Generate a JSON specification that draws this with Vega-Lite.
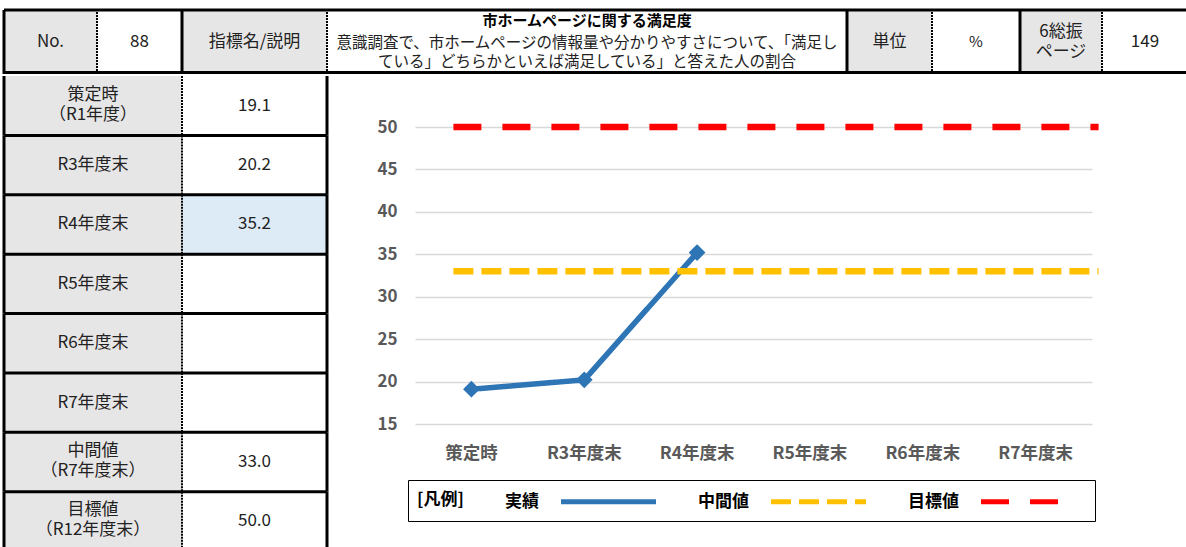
{
  "$schema": "https://vega.github.io/schema/vega-lite/v6.json",
  "padding": {"left": 2, "top": 8, "right": 0, "bottom": 0},
  "background": "white",
  "spacing": -8,
  "config": {"font": "Noto Sans CJK JP", "view": {"stroke": null}},
  "datasets": {
    "rows": [
      {"key": "策定時", "label": "策定時\n（R1年度）", "series": "実績", "value": 19.1},
      {"key": "R3年度末", "label": "R3年度末", "series": "実績", "value": 20.2},
      {"key": "R4年度末", "label": "R4年度末", "series": "実績", "value": 35.2},
      {"key": "R5年度末", "label": "R5年度末", "series": "実績", "value": null},
      {"key": "R6年度末", "label": "R6年度末", "series": "実績", "value": null},
      {"key": "R7年度末", "label": "R7年度末", "series": "実績", "value": null},
      {"key": "中間値", "label": "中間値\n（R7年度末）", "series": "中間値", "value": 33.0},
      {"key": "目標値", "label": "目標値\n（R12年度末）", "series": "目標値", "value": 50.0}
    ]
  },
  "vconcat": [
    {
      "spacing": 0,
      "bounds": "flush",
      "hconcat": [
        {
          "width": 93, "height": 64,
          "view": {"fill": "#e7e6e6", "stroke": null},
          "data": {"values": [{"t": "No."}]},
          "layer": [
            {"mark": {"type": "text", "fontSize": 17, "color": "#222222"}, "encoding": {"text": {"field": "t", "type": "nominal"}, "x": {"datum": 0.5, "type": "quantitative", "scale": {"domain": [0, 1]}, "axis": null}, "y": {"datum": 0.5, "type": "quantitative", "scale": {"domain": [0, 1]}, "axis": null}}},
            {"mark": {"type": "rule", "color": "#000000", "strokeWidth": 3}, "encoding": {"x": {"datum": 0, "type": "quantitative"}, "y": {"datum": 0, "type": "quantitative"}, "y2": {"datum": 1}}},
            {"mark": {"type": "rule", "color": "#000000", "strokeWidth": 3}, "encoding": {"y": {"datum": 1, "type": "quantitative"}, "x": {"datum": 0, "type": "quantitative"}, "x2": {"datum": 1}}},
            {"mark": {"type": "rule", "color": "#000000", "strokeWidth": 3, "yOffset": -1.5}, "encoding": {"y": {"datum": 0, "type": "quantitative"}, "x": {"datum": 0, "type": "quantitative"}, "x2": {"datum": 1}}}
          ]
        },
        {
          "width": 85, "height": 64,
          "view": {"stroke": null},
          "data": {"values": [{"t": "88"}]},
          "layer": [
            {"mark": {"type": "text", "fontSize": 17, "color": "#222222"}, "encoding": {"text": {"field": "t", "type": "nominal"}, "x": {"datum": 0.5, "type": "quantitative", "scale": {"domain": [0, 1]}, "axis": null}, "y": {"datum": 0.5, "type": "quantitative", "scale": {"domain": [0, 1]}, "axis": null}}},
            {"mark": {"type": "rule", "color": "#000000", "strokeWidth": 2, "strokeDash": [2, 1]}, "encoding": {"x": {"datum": 0, "type": "quantitative"}, "y": {"datum": 0, "type": "quantitative"}, "y2": {"datum": 1}}},
            {"mark": {"type": "rule", "color": "#000000", "strokeWidth": 3}, "encoding": {"y": {"datum": 1, "type": "quantitative"}, "x": {"datum": 0, "type": "quantitative"}, "x2": {"datum": 1}}},
            {"mark": {"type": "rule", "color": "#000000", "strokeWidth": 3, "yOffset": -1.5}, "encoding": {"y": {"datum": 0, "type": "quantitative"}, "x": {"datum": 0, "type": "quantitative"}, "x2": {"datum": 1}}}
          ]
        },
        {
          "width": 145, "height": 64,
          "view": {"fill": "#e7e6e6", "stroke": null},
          "data": {"values": [{"t": "指標名/説明"}]},
          "layer": [
            {"mark": {"type": "text", "fontSize": 17, "color": "#222222"}, "encoding": {"text": {"field": "t", "type": "nominal"}, "x": {"datum": 0.5, "type": "quantitative", "scale": {"domain": [0, 1]}, "axis": null}, "y": {"datum": 0.5, "type": "quantitative", "scale": {"domain": [0, 1]}, "axis": null}}},
            {"mark": {"type": "rule", "color": "#000000", "strokeWidth": 3}, "encoding": {"x": {"datum": 0, "type": "quantitative"}, "y": {"datum": 0, "type": "quantitative"}, "y2": {"datum": 1}}},
            {"mark": {"type": "rule", "color": "#000000", "strokeWidth": 3}, "encoding": {"y": {"datum": 1, "type": "quantitative"}, "x": {"datum": 0, "type": "quantitative"}, "x2": {"datum": 1}}},
            {"mark": {"type": "rule", "color": "#000000", "strokeWidth": 3, "yOffset": -1.5}, "encoding": {"y": {"datum": 0, "type": "quantitative"}, "x": {"datum": 0, "type": "quantitative"}, "x2": {"datum": 1}}}
          ]
        },
        {
          "width": 520, "height": 64,
          "view": {"stroke": null},
          "data": {"values": [{"title": "市ホームページに関する満足度", "desc": "意識調査で、市ホームページの情報量や分かりやすさについて、「満足し\nている」どちらかといえば満足している」と答えた人の割合"}]},
          "layer": [
            {"mark": {"type": "text", "fontSize": 15, "fontWeight": "bold", "color": "#000000", "dy": -21}, "encoding": {"text": {"field": "title", "type": "nominal"}, "x": {"datum": 0.5, "type": "quantitative", "scale": {"domain": [0, 1]}, "axis": null}, "y": {"datum": 0.5, "type": "quantitative", "scale": {"domain": [0, 1]}, "axis": null}}},
            {"mark": {"type": "text", "fontSize": 15.5, "color": "#222222", "dy": 1, "lineBreak": "\n", "lineHeight": 19}, "encoding": {"text": {"field": "desc", "type": "nominal"}, "x": {"datum": 0.5, "type": "quantitative"}, "y": {"datum": 0.5, "type": "quantitative"}}},
            {"mark": {"type": "rule", "color": "#000000", "strokeWidth": 2, "strokeDash": [2, 1]}, "encoding": {"x": {"datum": 0, "type": "quantitative"}, "y": {"datum": 0, "type": "quantitative"}, "y2": {"datum": 1}}},
            {"mark": {"type": "rule", "color": "#000000", "strokeWidth": 3}, "encoding": {"y": {"datum": 1, "type": "quantitative"}, "x": {"datum": 0, "type": "quantitative"}, "x2": {"datum": 1}}},
            {"mark": {"type": "rule", "color": "#000000", "strokeWidth": 3, "yOffset": -1.5}, "encoding": {"y": {"datum": 0, "type": "quantitative"}, "x": {"datum": 0, "type": "quantitative"}, "x2": {"datum": 1}}}
          ]
        },
        {
          "width": 85, "height": 64,
          "view": {"fill": "#e7e6e6", "stroke": null},
          "data": {"values": [{"t": "単位"}]},
          "layer": [
            {"mark": {"type": "text", "fontSize": 17, "color": "#222222"}, "encoding": {"text": {"field": "t", "type": "nominal"}, "x": {"datum": 0.5, "type": "quantitative", "scale": {"domain": [0, 1]}, "axis": null}, "y": {"datum": 0.5, "type": "quantitative", "scale": {"domain": [0, 1]}, "axis": null}}},
            {"mark": {"type": "rule", "color": "#000000", "strokeWidth": 3}, "encoding": {"x": {"datum": 0, "type": "quantitative"}, "y": {"datum": 0, "type": "quantitative"}, "y2": {"datum": 1}}},
            {"mark": {"type": "rule", "color": "#000000", "strokeWidth": 3}, "encoding": {"y": {"datum": 1, "type": "quantitative"}, "x": {"datum": 0, "type": "quantitative"}, "x2": {"datum": 1}}},
            {"mark": {"type": "rule", "color": "#000000", "strokeWidth": 3, "yOffset": -1.5}, "encoding": {"y": {"datum": 0, "type": "quantitative"}, "x": {"datum": 0, "type": "quantitative"}, "x2": {"datum": 1}}}
          ]
        },
        {
          "width": 88, "height": 64,
          "view": {"stroke": null},
          "data": {"values": [{"t": "%"}]},
          "layer": [
            {"mark": {"type": "text", "fontSize": 15, "color": "#222222"}, "encoding": {"text": {"field": "t", "type": "nominal"}, "x": {"datum": 0.5, "type": "quantitative", "scale": {"domain": [0, 1]}, "axis": null}, "y": {"datum": 0.5, "type": "quantitative", "scale": {"domain": [0, 1]}, "axis": null}}},
            {"mark": {"type": "rule", "color": "#000000", "strokeWidth": 2, "strokeDash": [2, 1]}, "encoding": {"x": {"datum": 0, "type": "quantitative"}, "y": {"datum": 0, "type": "quantitative"}, "y2": {"datum": 1}}},
            {"mark": {"type": "rule", "color": "#000000", "strokeWidth": 3}, "encoding": {"y": {"datum": 1, "type": "quantitative"}, "x": {"datum": 0, "type": "quantitative"}, "x2": {"datum": 1}}},
            {"mark": {"type": "rule", "color": "#000000", "strokeWidth": 3, "yOffset": -1.5}, "encoding": {"y": {"datum": 0, "type": "quantitative"}, "x": {"datum": 0, "type": "quantitative"}, "x2": {"datum": 1}}}
          ]
        },
        {
          "width": 82, "height": 64,
          "view": {"fill": "#e7e6e6", "stroke": null},
          "data": {"values": [{"t": "6総振\nページ"}]},
          "layer": [
            {"mark": {"type": "text", "fontSize": 17, "color": "#222222", "lineBreak": "\n", "lineHeight": 20, "dy": -10}, "encoding": {"text": {"field": "t", "type": "nominal"}, "x": {"datum": 0.5, "type": "quantitative", "scale": {"domain": [0, 1]}, "axis": null}, "y": {"datum": 0.5, "type": "quantitative", "scale": {"domain": [0, 1]}, "axis": null}}},
            {"mark": {"type": "rule", "color": "#000000", "strokeWidth": 3}, "encoding": {"x": {"datum": 0, "type": "quantitative"}, "y": {"datum": 0, "type": "quantitative"}, "y2": {"datum": 1}}},
            {"mark": {"type": "rule", "color": "#000000", "strokeWidth": 3}, "encoding": {"y": {"datum": 1, "type": "quantitative"}, "x": {"datum": 0, "type": "quantitative"}, "x2": {"datum": 1}}},
            {"mark": {"type": "rule", "color": "#000000", "strokeWidth": 3, "yOffset": -1.5}, "encoding": {"y": {"datum": 0, "type": "quantitative"}, "x": {"datum": 0, "type": "quantitative"}, "x2": {"datum": 1}}}
          ]
        },
        {
          "width": 86, "height": 64,
          "view": {"stroke": null},
          "data": {"values": [{"t": "149"}]},
          "layer": [
            {"mark": {"type": "text", "fontSize": 17, "color": "#222222"}, "encoding": {"text": {"field": "t", "type": "nominal"}, "x": {"datum": 0.5, "type": "quantitative", "scale": {"domain": [0, 1]}, "axis": null}, "y": {"datum": 0.5, "type": "quantitative", "scale": {"domain": [0, 1]}, "axis": null}}},
            {"mark": {"type": "rule", "color": "#000000", "strokeWidth": 2, "strokeDash": [2, 1]}, "encoding": {"x": {"datum": 0, "type": "quantitative"}, "y": {"datum": 0, "type": "quantitative"}, "y2": {"datum": 1}}},
            {"mark": {"type": "rule", "color": "#000000", "strokeWidth": 3}, "encoding": {"y": {"datum": 1, "type": "quantitative"}, "x": {"datum": 0, "type": "quantitative"}, "x2": {"datum": 1}}},
            {"mark": {"type": "rule", "color": "#000000", "strokeWidth": 3, "yOffset": -1.5}, "encoding": {"y": {"datum": 0, "type": "quantitative"}, "x": {"datum": 0, "type": "quantitative"}, "x2": {"datum": 1}}}
          ]
        }
      ]
    },
    {
      "spacing": 0,
      "bounds": "flush",
      "hconcat": [
        {
          "width": 178, "height": 475,
          "view": {"fill": "#e7e6e6", "stroke": null},
          "data": {"name": "rows"},
          "layer": [
            {"transform": [{"filter": "indexof(datum.label, '\\n') < 0"}],
             "mark": {"type": "text", "fontSize": 17, "color": "#222222"},
             "encoding": {"y": {"field": "key", "type": "nominal", "sort": null, "scale": {"domain": ["策定時", "R3年度末", "R4年度末", "R5年度末", "R6年度末", "R7年度末", "中間値", "目標値"], "paddingInner": 0, "paddingOuter": 0}, "axis": null},
                          "x": {"datum": 0.5, "type": "quantitative", "scale": {"domain": [0, 1]}, "axis": null},
                          "text": {"field": "label", "type": "nominal"}}},
            {"transform": [{"filter": "indexof(datum.label, '\\n') >= 0"}],
             "mark": {"type": "text", "fontSize": 17, "color": "#222222", "lineBreak": "\n", "lineHeight": 20, "dy": -11},
             "encoding": {"y": {"field": "key", "type": "nominal", "sort": null},
                          "x": {"datum": 0.5, "type": "quantitative"},
                          "text": {"field": "label", "type": "nominal"}}},
            {"transform": [{"filter": "datum.key !== '策定時'"}],
             "mark": {"type": "rule", "color": "#000000", "strokeWidth": 3},
             "encoding": {"y": {"field": "key", "type": "nominal", "sort": null, "bandPosition": 0}, "x": {"datum": 0, "type": "quantitative"}, "x2": {"datum": 1}}},
            {"mark": {"type": "rule", "color": "#000000", "strokeWidth": 3},
             "encoding": {"x": {"datum": 0, "type": "quantitative"}, "y": {"field": "key", "type": "nominal", "sort": null, "bandPosition": 0}, "y2": {"field": "key", "bandPosition": 1}}}
          ]
        },
        {
          "width": 145, "height": 475,
          "view": {"stroke": null},
          "data": {"name": "rows"},
          "layer": [
            {"mark": {"type": "rect"},
             "encoding": {"y": {"field": "key", "type": "nominal", "sort": null, "scale": {"domain": ["策定時", "R3年度末", "R4年度末", "R5年度末", "R6年度末", "R7年度末", "中間値", "目標値"], "paddingInner": 0, "paddingOuter": 0}, "axis": null},
                          "x": {"datum": 0, "type": "quantitative", "scale": {"domain": [0, 1]}, "axis": null}, "x2": {"datum": 1},
                          "color": {"condition": {"test": "datum.key === 'R4年度末'", "value": "#ddebf7"}, "value": "#ffffff"}}},
            {"transform": [{"filter": "isValid(datum.value)"}],
             "mark": {"type": "text", "fontSize": 17, "color": "#222222"},
             "encoding": {"y": {"field": "key", "type": "nominal", "sort": null}, "x": {"datum": 0.5, "type": "quantitative"}, "text": {"field": "value", "type": "quantitative", "format": ".1f"}}},
            {"transform": [{"filter": "datum.key !== '策定時'"}],
             "mark": {"type": "rule", "color": "#000000", "strokeWidth": 3},
             "encoding": {"y": {"field": "key", "type": "nominal", "sort": null, "bandPosition": 0}, "x": {"datum": 0, "type": "quantitative"}, "x2": {"datum": 1}}},
            {"mark": {"type": "rule", "color": "#000000", "strokeWidth": 2, "strokeDash": [2, 1]},
             "encoding": {"x": {"datum": 0, "type": "quantitative"}, "y": {"field": "key", "type": "nominal", "sort": null, "bandPosition": 0}, "y2": {"field": "key", "bandPosition": 1}}},
            {"mark": {"type": "rule", "color": "#000000", "strokeWidth": 3},
             "encoding": {"x": {"datum": 1, "type": "quantitative"}, "y": {"field": "key", "type": "nominal", "sort": null, "bandPosition": 0}, "y2": {"field": "key", "bandPosition": 1}}}
          ]
        },
        {
          "width": 861, "height": 475,
          "view": {"stroke": null},
          "data": {"name": "rows"},
          "layer": [
            {
              "transform": [{"filter": "datum.series === '実績'"}],
              "mark": {"type": "line", "strokeWidth": 5.5, "strokeJoin": "round", "point": {"shape": "diamond", "size": 280, "filled": true}},
              "encoding": {
                "x": {"field": "key", "type": "nominal", "sort": null,
                      "scale": {"domain": ["策定時", "R3年度末", "R4年度末", "R5年度末", "R6年度末", "R7年度末"], "range": [88, 765], "paddingInner": 0, "paddingOuter": 0},
                      "axis": {"title": null, "orient": "bottom", "domain": false, "ticks": false, "tickSize": 0, "grid": false, "labelPadding": -98, "labelBaseline": "middle", "labelFontSize": 17.5, "labelFontWeight": "bold", "labelColor": "#595959", "labelAngle": 0}},
                "y": {"field": "value", "type": "quantitative",
                      "scale": {"domain": [15, 50], "range": [348, 51], "nice": false, "zero": false},
                      "axis": {"title": null, "values": [15, 20, 25, 30, 35, 40, 45, 50], "domain": false, "ticks": false, "tickSize": 0, "labelPadding": -70, "labelFontSize": 17, "labelFontWeight": "bold", "labelColor": "#595959", "grid": true, "gridColor": "#d9d9d9", "gridWidth": 1.5}},
                "color": {"field": "series", "type": "nominal",
                          "scale": {"domain": ["実績", "中間値", "目標値"], "range": ["#2e75b6", "#ffc000", "#ff0000"]},
                          "legend": {"orient": "none", "legendX": 404, "legendY": 470, "direction": "horizontal", "title": "[凡例]", "titleOrient": "left", "titleFontSize": 17, "titleFontWeight": "bold", "titleColor": "#000000", "titlePadding": 132,
                                     "labelFontSize": 17, "labelFontWeight": "bold", "labelColor": "#000000", "labelAlign": "right", "labelOffset": -82,
                                     "symbolType": "M-4.75,0L4.75,0", "symbolSize": 400, "symbolStrokeWidth": 5, "columnPadding": 32,
                                     "strokeColor": "#000000", "padding": 9}},
                "strokeDash": {"field": "series", "type": "nominal",
                               "scale": {"domain": ["実績", "中間値", "目標値"], "range": [[1, 0], [20, 8], [28, 21]]},
                               "legend": {"orient": "none", "legendX": 404, "legendY": 470, "direction": "horizontal", "title": "[凡例]", "titleOrient": "left", "titleFontSize": 17, "titleFontWeight": "bold", "titleColor": "#000000", "titlePadding": 132,
                                     "labelFontSize": 17, "labelFontWeight": "bold", "labelColor": "#000000", "labelAlign": "right", "labelOffset": -82,
                                     "symbolType": "M-4.75,0L4.75,0", "symbolSize": 400, "symbolStrokeWidth": 5, "columnPadding": 32,
                                     "strokeColor": "#000000", "padding": 9}}
              }
            },
            {
              "transform": [{"filter": "datum.series !== '実績'"}],
              "mark": {"type": "rule", "strokeWidth": 6.5, "xOffset": -18, "x2Offset": 63},
              "encoding": {
                "x": {"datum": "策定時"},
                "x2": {"datum": "R7年度末"},
                "y": {"field": "value", "type": "quantitative"},
                "color": {"field": "series", "type": "nominal"},
                "strokeDash": {"field": "series", "type": "nominal"}
              }
            }
          ]
        }
      ]
    }
  ]
}
